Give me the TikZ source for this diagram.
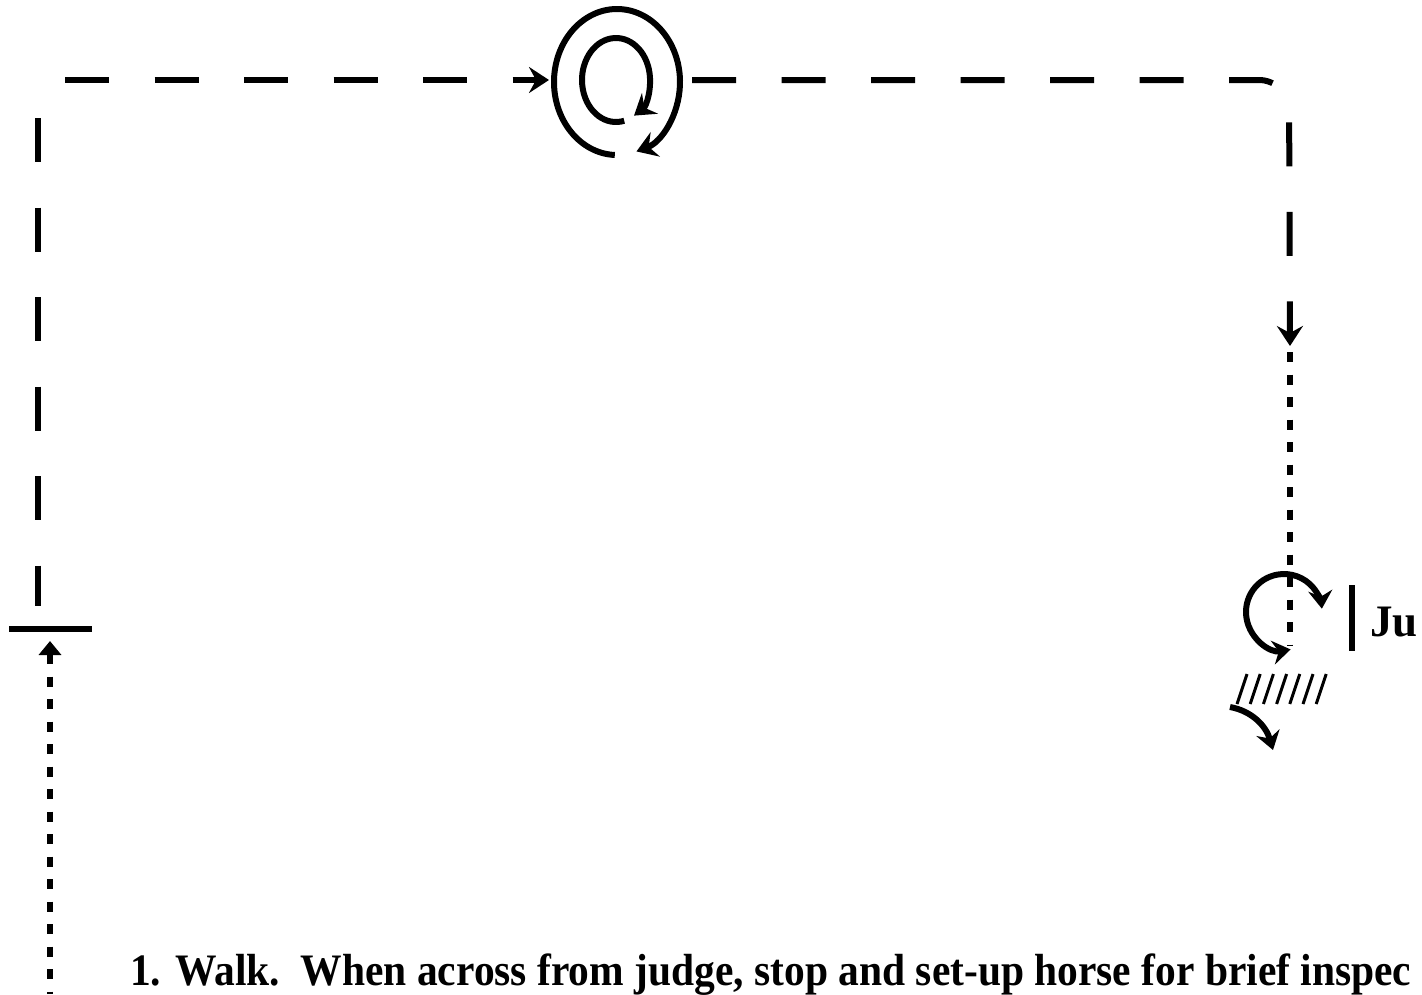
\documentclass[tikz,border=0pt]{standalone}
\usepackage{fontspec}
\setmainfont{Liberation Serif}
\usetikzlibrary{arrows.meta}
\tikzset{
  bigtip/.tip={Stealth[length=18pt,width=24pt,inset=6pt]},
  dashline/.style={line width=6pt, dash pattern=on 44pt off 45.5pt},
  dotline/.style={line width=6pt, dash pattern=on 10pt off 12.5pt},
  loopline/.style={line width=6pt},
  tip/.style={-{Stealth[length=20pt,width=26pt,inset=7pt]}},
  uptip/.style={{Triangle[length=14pt,width=22pt]}-},
  label/.style={font=\fontsize{45}{50}\selectfont\bfseries, inner sep=0pt, anchor=base west},
}
\begin{document}
\begin{tikzpicture}[x=1pt,y=-1pt]
\useasboundingbox (0,0) rectangle (1422,994);
\clip (0,0) rectangle (1422,994);
% named coordinates
\coordinate (topstart) at (65,80);
\coordinate (circin) at (549,80);
\coordinate (circout) at (692,80);
\coordinate (corner) at (1289,80);
\coordinate (downtip) at (1290,346);
\coordinate (leftstart) at (38,118);
\coordinate (leftend) at (38,606);
\coordinate (barL) at (9,629);
\coordinate (barR) at (92,629);
\coordinate (uptip) at (50,641);
\coordinate (upend) at (50,994);
\coordinate (dotR0) at (1290,352);
\coordinate (dotR1) at (1290,645);

% top dashed line into circle
\draw[dashline, tip] (topstart) -- (circin);
% circles
\draw[loopline, tip] (617,82) ++(-92:63pt and 73pt) arc[start angle=-92, end angle=-432, x radius=63pt, y radius=73pt];
\draw[loopline, tip] (616,80) ++(-76:34pt and 42pt) arc[start angle=-76, end angle=-418, x radius=34pt, y radius=42pt];
% top right dashed with corner
\draw[dashline, tip, rounded corners=30pt] (circout) -- (corner) -- (downtip);
% right dotted
\draw[dotline] (dotR0) -- (dotR1);
% left dashed vertical
\draw[dashline] (leftstart) -- (leftend);
% bar
\draw[line width=6pt] (barL) -- (barR);
% up arrow dotted
\draw[dotline, uptip] (uptip) -- (upend);

% loop at bottom right
\draw[line width=6pt, bigtip-bigtip]
  (1284,612) ++(-80:38pt) arc[start angle=-80, end angle=-355, radius=38pt];
% judge bar
\draw[line width=6pt] (1352,585) -- (1352,651);
\node[label] (ju) at (1370,636) {Ju};
% hatching
\foreach \i in {0,...,6} {
  \draw[line width=3pt] (1237+13.2*\i,704) -- (1247+13.2*\i,674);
}
% curved arrow
\draw[line width=6pt, -bigtip] (1230,707) .. controls (1252,711) and (1266,726) .. (1273,750);

% caption
\node[label] (cap) at (130,985) {\scalebox{0.922}[1]{1. Walk.\ \ When across from judge, stop and set-up horse for brief inspec}};
\end{tikzpicture}
\end{document}
